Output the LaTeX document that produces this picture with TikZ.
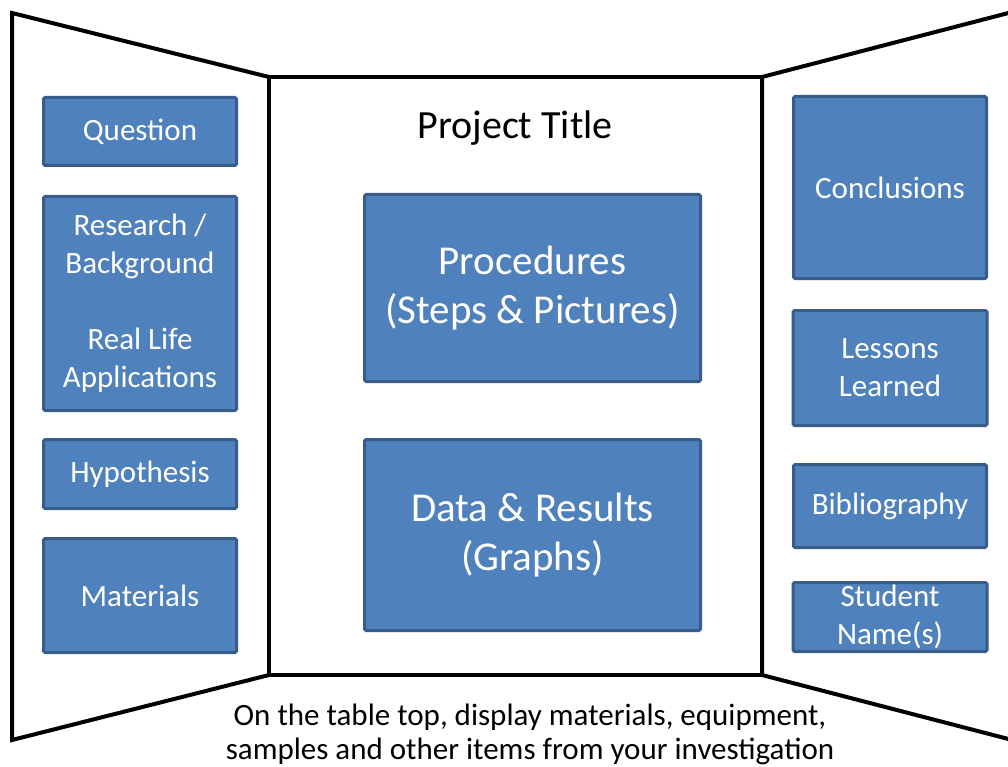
\documentclass[tikz,border=0pt]{standalone}
\usepackage{fontspec}
\setmainfont{Carlito}
\usepackage{xcolor}
\usepackage{tikz}
\usetikzlibrary{positioning}

\definecolor{boxblue}{HTML}{4F81BD}
\definecolor{boxedge}{HTML}{385D8A}

\begin{document}
\begin{tikzpicture}[
    x=1pt, y=-1pt,
    panel/.style={draw=black, line width=4pt, fill=white, line join=miter},
    section/.style={rectangle, draw=boxedge, fill=boxblue, line width=3pt, rounded corners=1.5pt,
        text=white, align=center, inner sep=2pt, font=\fontsize{31}{38}\selectfont},
    bigsection/.style={section, font=\fontsize{41}{49}\selectfont}
]

\clip (0,0) rectangle (1008,767);

\draw[panel] (12,13) -- (269,77) -- (269,675) -- (12,740) -- cycle;
\draw[panel] (762,77) -- (1020,10) -- (1020,742) -- (762,675) -- cycle;
\draw[panel] (269,77) rectangle (762,675);

\node[font=\fontsize{40}{48}\selectfont] (title) at (515,128) {Project Title};

\node[section, minimum width=193pt, minimum height=68pt] (question) at (140,131.5) {Question};
\node[section, minimum width=193pt, minimum height=214pt, below=28pt of question] (research)
    {Research /\\Background\\[38pt]Real Life\\Applications};
\node[section, minimum width=193pt, minimum height=69pt, below=26pt of research] (hypothesis) {Hypothesis};
\node[section, minimum width=193pt, minimum height=114pt, below=27pt of hypothesis] (materials) {Materials};

\node[bigsection, minimum width=336pt, minimum height=187pt] (procedures) at (532.5,288)
    {Procedures\\(Steps \& Pictures)};
\node[bigsection, minimum width=336pt, minimum height=191pt, below=55pt of procedures] (results)
    {Data \& Results\\(Graphs)};

\node[section, minimum width=193pt, minimum height=182pt] (conclusions) at (890,187.5) {Conclusions};
\node[section, minimum width=194pt, minimum height=115pt, below=29pt of conclusions] (lessons) {Lessons\\Learned};
\node[section, minimum width=193pt, minimum height=83pt, below=36pt of lessons] (biblio) {Bibliography};
\node[section, minimum width=194pt, minimum height=69pt, below=32pt of biblio] (student) {Student\\Name(s)};

\node[align=center, inner sep=0pt, font=\fontsize{31}{34}\selectfont] (tabletop) at (530,734)
    {On the table top, display materials, equipment,\\samples and other items from your investigation};

\end{tikzpicture}
\end{document}
